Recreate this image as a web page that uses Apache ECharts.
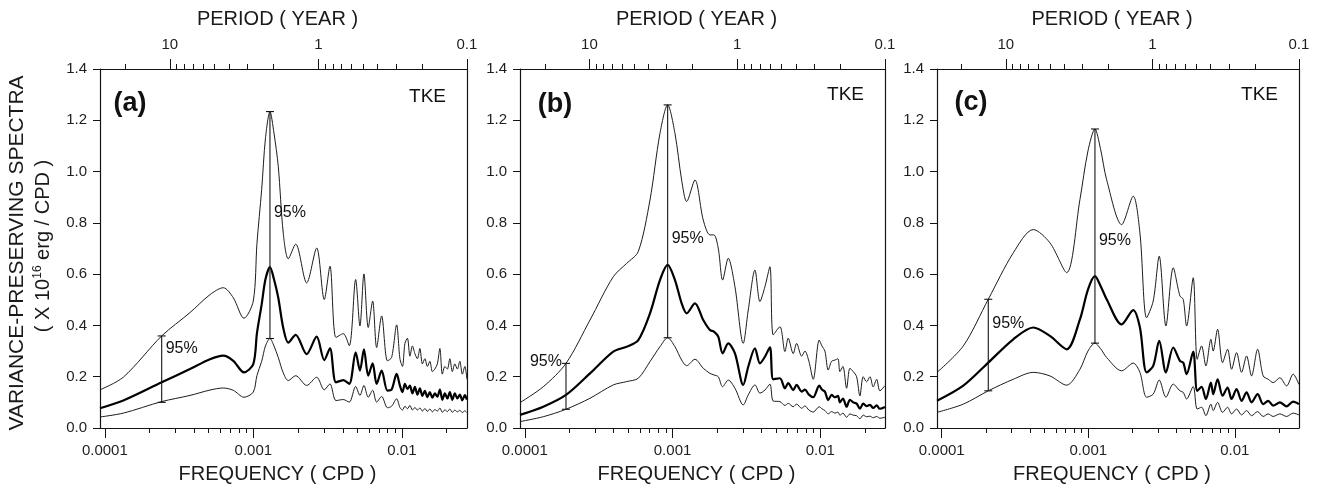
<!DOCTYPE html>
<html>
<head>
<meta charset="utf-8">
<script src="https://cdn.jsdelivr.net/npm/echarts@6/dist/echarts.min.js"></script>
<style>html,body{margin:0;padding:0;background:#fff}#chart{width:1320px;height:489px}</style>
</head>
<body>
<div id="chart"></div>
<script>
// ---------- data (frequencies stored as log10 of CPD) ----------
const aLogF = [-4.0324,-3.8756,-3.6172,-3.4267,-3.2922,-3.2026,-3.1354,-3.0634,-3.0008,-2.9759,-2.9442,-2.9187,-2.8884,-2.8614,-2.8325,-2.7989,-2.7652,-2.7154,-2.6414,-2.5741,-2.5230,-2.4846,-2.4442,-2.3951,-2.3547,-2.3117,-2.2827,-2.2558,-2.2269,-2.1973,-2.1704,-2.1367,-2.0977,-2.0694,-2.0358,
  -2.0136,-1.9968,-1.9800,-1.9632,-1.9464,-1.9296,-1.9128,-1.8960,-1.8792,-1.8624,-1.8456,-1.8288,-1.8120,-1.7952,-1.7784,-1.7616,-1.7448,-1.7280,-1.7112,-1.6944,-1.6776,-1.6608,-1.6440,-1.6272,-1.6104,-1.5936,-1.5768,-1.5626];
const aUpper = [0.149,0.198,0.359,0.45,0.52,0.547,0.508,0.428,0.495,0.72,0.93,1.13,1.234,1.15,1.02,0.76,0.66,0.717,0.566,0.702,0.501,0.631,0.353,0.368,0.321,0.579,0.398,0.601,0.392,0.495,0.314,0.437,0.262,0.275,0.402,
  0.27,0.24,0.33,0.35,0.28,0.32,0.29,0.27,0.31,0.25,0.27,0.24,0.26,0.22,0.23,0.25,0.31,0.21,0.24,0.23,0.27,0.22,0.25,0.23,0.26,0.21,0.24,0.19];
const aMid = [0.077,0.107,0.178,0.23,0.268,0.282,0.262,0.217,0.249,0.37,0.482,0.58,0.627,0.58,0.508,0.39,0.333,0.363,0.288,0.356,0.265,0.311,0.178,0.187,0.172,0.295,0.224,0.307,0.204,0.252,0.172,0.224,0.146,0.15,0.211,
  0.165,0.14,0.172,0.152,0.165,0.135,0.16,0.13,0.155,0.125,0.145,0.12,0.14,0.118,0.135,0.122,0.15,0.11,0.135,0.115,0.14,0.11,0.135,0.115,0.13,0.108,0.128,0.11];
const aLower = [0.043,0.058,0.103,0.127,0.148,0.156,0.147,0.12,0.14,0.205,0.26,0.32,0.349,0.32,0.275,0.215,0.185,0.204,0.166,0.198,0.149,0.172,0.107,0.111,0.101,0.162,0.127,0.166,0.12,0.147,0.101,0.123,0.079,0.085,0.114,
  0.08,0.07,0.085,0.075,0.088,0.07,0.08,0.07,0.078,0.066,0.076,0.065,0.074,0.063,0.072,0.066,0.078,0.061,0.071,0.064,0.074,0.061,0.07,0.063,0.069,0.06,0.067,0.06];

const bLogF = [-4.0324,-3.8748,-3.7212,-3.5588,-3.4011,-3.3105,-3.2320,-3.1528,-3.0852,-3.0331,-2.9837,-2.9384,-2.9045,-2.8484,-2.7922,-2.7469,-2.7198,-2.6907,-2.6610,-2.6231,-2.5777,-2.5216,-2.4877,-2.4424,-2.4086,-2.3748,-2.3409,-2.3186,-2.2733,-2.2394,-2.2171,-2.1833,-2.1603,-2.1264,-2.1041,-2.0771,-2.0480,-2.0074,-1.9891,-1.9688,-1.9465,-1.9235,-1.9011,-1.8808,-1.8673,-1.8470,-1.8220,-1.7997,-1.7773,-1.7543,-1.7320,-1.7097,-1.6867,-1.6643,-1.6420,-1.6190,-1.5967,-1.5626];
const bUpper = [0.099,0.161,0.252,0.421,0.59,0.642,0.688,0.889,1.149,1.26,1.149,0.967,0.883,0.967,0.811,0.753,0.753,0.701,0.577,0.662,0.551,0.33,0.46,0.616,0.493,0.551,0.629,0.363,0.395,0.298,0.35,0.29,0.33,0.28,0.30,0.26,0.19,0.343,0.32,0.30,0.226,0.26,0.265,0.27,0.22,0.24,0.155,0.233,0.22,0.20,0.125,0.2,0.18,0.2,0.16,0.19,0.145,0.165];
const bMid = [0.051,0.083,0.129,0.213,0.298,0.317,0.343,0.447,0.577,0.636,0.577,0.486,0.447,0.486,0.421,0.382,0.376,0.356,0.291,0.33,0.291,0.168,0.239,0.311,0.252,0.278,0.315,0.19,0.194,0.155,0.175,0.148,0.168,0.142,0.15,0.13,0.12,0.165,0.15,0.142,0.109,0.129,0.12,0.125,0.1,0.115,0.083,0.11,0.1,0.095,0.075,0.095,0.085,0.09,0.078,0.088,0.075,0.082];
const bLower = [0.025,0.044,0.073,0.116,0.168,0.181,0.194,0.259,0.317,0.352,0.317,0.265,0.243,0.268,0.233,0.213,0.207,0.2,0.161,0.187,0.155,0.09,0.129,0.168,0.136,0.148,0.171,0.105,0.103,0.088,0.096,0.083,0.093,0.077,0.086,0.07,0.062,0.083,0.075,0.068,0.055,0.064,0.058,0.062,0.05,0.058,0.042,0.055,0.05,0.048,0.036,0.05,0.044,0.046,0.04,0.045,0.038,0.042];

const cLogF = [-4.0324,-3.8530,-3.6825,-3.5119,-3.3755,-3.2616,-3.1477,-3.0570,-3.0024,-2.9546,-2.9171,-2.8748,-2.7725,-2.6934,-2.6477,-2.6020,-2.5570,-2.5160,-2.4703,-2.4205,-2.3748,-2.3523,-2.3291,-2.2841,-2.2568,-2.2268,-2.1975,-2.1634,-2.1477,-2.1177,-2.0836,-2.0495,-2.0222,-1.9881,-1.9540,-1.9199,-1.8857,-1.8448,-1.8066,-1.7725,-1.7384,-1.6927,-1.6470,-1.6020,-1.5626];
const cUpper = [0.217,0.32,0.502,0.683,0.774,0.722,0.606,0.891,1.08,1.166,1.09,0.968,0.793,0.904,0.761,0.43,0.495,0.67,0.398,0.625,0.515,0.502,0.398,0.586,0.268,0.32,0.242,0.346,0.30,0.385,0.255,0.307,0.229,0.294,0.217,0.281,0.203,0.307,0.203,0.19,0.177,0.196,0.164,0.21,0.17];
const cMid = [0.106,0.165,0.255,0.346,0.392,0.359,0.307,0.424,0.54,0.592,0.555,0.502,0.404,0.46,0.392,0.217,0.242,0.34,0.217,0.314,0.262,0.255,0.21,0.298,0.145,0.16,0.113,0.177,0.132,0.19,0.126,0.158,0.113,0.152,0.106,0.139,0.1,0.132,0.093,0.106,0.087,0.1,0.084,0.103,0.093];
const cLower = [0.061,0.093,0.145,0.19,0.217,0.203,0.167,0.229,0.30,0.331,0.31,0.275,0.223,0.253,0.217,0.12,0.132,0.187,0.12,0.171,0.145,0.139,0.113,0.162,0.074,0.081,0.048,0.093,0.068,0.1,0.061,0.081,0.055,0.074,0.051,0.068,0.048,0.064,0.045,0.055,0.045,0.055,0.045,0.058,0.051];

// 95% confidence bars: [log10 f, low, high]
const aBars = [[-2.8884,0.349,1.234],[-3.6172,0.10,0.359]];
const bBars = [[-3.0331,0.352,1.26],[-3.7212,0.073,0.252]];
const cBars = [[-2.9546,0.331,1.166],[-3.6825,0.145,0.502]];
// "95%" annotations: [log10 f, value, side of bar]
const aNotes = [[-2.8884,0.841,'right'],[-3.6172,0.31,'right']];
const bNotes = [[-3.0331,0.737,'right'],[-3.7212,0.26,'left']];
const cNotes = [[-2.9546,0.731,'right'],[-3.6825,0.408,'right']];

// ---------- axis ticks ----------
const freqMajor = [1e-4, 1e-3, 1e-2];
const freqLabels = ['0.0001', '0.001', '0.01'];
const freqMinor = [2e-4,3e-4,4e-4,5e-4,6e-4,7e-4,8e-4,9e-4,2e-3,3e-3,4e-3,5e-3,6e-3,7e-3,8e-3,9e-3,2e-2];
const periodMajor = [10, 1, 0.1];
const periodLabels = ['10', '1', '0.1'];
const periodMinor = [20,9,8,7,6,5,4,3,2,0.9,0.8,0.7,0.6,0.5,0.4,0.3,0.2];
const yTicks = [0, 0.2, 0.4, 0.6, 0.8, 1.0, 1.2, 1.4];
const yLabels = ['0.0','0.2','0.4','0.6','0.8','1.0','1.2','1.4'];
const panelTags = ['(a)', '(b)', '(c)'];

const periodMin = 0.0999, periodMax = 29.5;           // years
const fMin = 1 / (365.25 * periodMax), fMax = 1 / (365.25 * periodMin); // CPD

const FONT = '"Liberation Sans", Arial, Helvetica, sans-serif';
const INK = '#141414';

function labelFor(v, vals, labels) {
  for (let i = 0; i < vals.length; i++) {
    if (Math.abs(Math.log10(v) - Math.log10(vals[i])) < 1e-6) return labels[i];
  }
  return '';
}
function pairs(logF, vals) { return logF.map((L, i) => [Math.pow(10, L), vals[i]]); }

const panels = [
  {grid:{left:100, top:69, width:367, height:362}, logF:aLogF, up:aUpper, mid:aMid, lo:aLower, bars:aBars, notes:aNotes},
  {grid:{left:520, top:69, width:365, height:359}, logF:bLogF, up:bUpper, mid:bMid, lo:bLower, bars:bBars, notes:bNotes},
  {grid:{left:937, top:69, width:362, height:360}, logF:cLogF, up:cUpper, mid:cMid, lo:cLower, bars:cBars, notes:cNotes}
];

const grids = [], xAxes = [], yAxes = [], series = [];
const tickLabelStyle = {fontSize:15, fontFamily:FONT, color:'#1e1e1e'};
const nameStyle = {fontSize:20, fontFamily:FONT, color:'#1a1a1a', padding:[0,12,0,0]};

panels.forEach((p, k) => {
  grids.push(p.grid);
  // bottom frequency axis (major)
  xAxes.push({type:'log', logBase:10, gridIndex:k, position:'bottom', min:fMin, max:fMax,
    axisLine:{show:true, onZero:false, lineStyle:{color:INK, width:1.2}},
    axisTick:{show:true, customValues:freqMajor, length:10, lineStyle:{color:INK, width:1}},
    axisLabel:{show:true, customValues:freqMajor, formatter:v => labelFor(v, freqMajor, freqLabels), margin:15, ...tickLabelStyle},
    splitLine:{show:false}, minorTick:{show:false},
    name:'FREQUENCY ( CPD )', nameLocation:'middle', nameGap:36, nameTextStyle:nameStyle});
  // bottom frequency axis (minor ticks)
  xAxes.push({type:'log', logBase:10, gridIndex:k, position:'bottom', min:fMin, max:fMax,
    axisLine:{show:false, onZero:false},
    axisTick:{show:true, customValues:freqMinor, length:5, lineStyle:{color:INK, width:1}},
    axisLabel:{show:false}, splitLine:{show:false}});
  // top period axis (major)
  xAxes.push({type:'log', logBase:10, gridIndex:k, position:'top', inverse:true, min:periodMin, max:periodMax,
    axisLine:{show:true, onZero:false, lineStyle:{color:INK, width:1.2}},
    axisTick:{show:true, customValues:periodMajor, length:10, lineStyle:{color:INK, width:1}},
    axisLabel:{show:true, customValues:periodMajor, formatter:v => labelFor(v, periodMajor, periodLabels), margin:17, ...tickLabelStyle},
    splitLine:{show:false},
    name:'PERIOD ( YEAR )', nameLocation:'middle', nameGap:40, nameTextStyle:nameStyle});
  // top period axis (minor ticks)
  xAxes.push({type:'log', logBase:10, gridIndex:k, position:'top', inverse:true, min:periodMin, max:periodMax,
    axisLine:{show:false, onZero:false},
    axisTick:{show:true, customValues:periodMinor, length:5, lineStyle:{color:INK, width:1}},
    axisLabel:{show:false}, splitLine:{show:false}});

  yAxes.push({type:'value', gridIndex:k, position:'left', min:0, max:1.4, interval:0.2,
    axisLine:{show:true, onZero:false, lineStyle:{color:INK, width:1.2}},
    axisTick:{show:true, length:7, lineStyle:{color:INK}},
    axisLabel:{show:true, margin:13, formatter:v => labelFor(v + 1, yTicks.map(t => t + 1), yLabels), ...tickLabelStyle},
    splitLine:{show:false}});
  yAxes.push({type:'value', gridIndex:k, position:'right', min:0, max:1.4, interval:0.2,
    axisLine:{show:true, onZero:false, lineStyle:{color:INK, width:1.2}},
    axisTick:{show:false}, axisLabel:{show:false}, splitLine:{show:false}});

  const xi = k * 4, yi = k * 2;
  const lineBase = {type:'line', xAxisIndex:xi, yAxisIndex:yi, symbol:'none', showSymbol:false, smooth:0.3, silent:true, z:3};
  series.push({...lineBase, name:'Upper 95% bound', data:pairs(p.logF, p.up), lineStyle:{color:'#1c1c1c', width:1}});
  series.push({...lineBase, name:'TKE spectrum', data:pairs(p.logF, p.mid), lineStyle:{color:'#000', width:2.2}});
  series.push({...lineBase, name:'Lower 95% bound', data:pairs(p.logF, p.lo), lineStyle:{color:'#1c1c1c', width:1}});

  series.push({type:'custom', name:'95% interval', xAxisIndex:xi, yAxisIndex:yi, clip:false, silent:true, z:4,
    data:p.bars.map(b => [Math.pow(10, b[0]), b[1], b[2]]),
    renderItem:(params, api) => {
      const f = api.value(0);
      const a = api.coord([f, api.value(1)]), b = api.coord([f, api.value(2)]);
      const st = {stroke:INK, lineWidth:1.1};
      const cap = 4;
      return {type:'group', children:[
        {type:'line', shape:{x1:a[0], y1:a[1], x2:b[0], y2:b[1]}, style:st},
        {type:'line', shape:{x1:a[0]-cap, y1:a[1], x2:a[0]+cap, y2:a[1]}, style:st},
        {type:'line', shape:{x1:b[0]-cap, y1:b[1], x2:b[0]+cap, y2:b[1]}, style:st}
      ]};
    }});

  const notes = p.notes;
  series.push({type:'custom', name:'95% label', xAxisIndex:xi, yAxisIndex:yi, clip:false, silent:true, z:5,
    data:notes.map(n => [Math.pow(10, n[0]), n[1]]),
    renderItem:(params, api) => {
      const pt = api.coord([api.value(0), api.value(1)]);
      const left = notes[params.dataIndex][2] === 'left';
      return {type:'text', x:pt[0] + (left ? -4 : 4), y:pt[1],
        style:{text:'95%', fontSize:16, fontFamily:FONT, fill:'#111', align:left ? 'right' : 'left', verticalAlign:'middle'}};
    }});
});

const graphics = [
  {type:'text', x:17, y:253, rotation:Math.PI/2,
    style:{text:'VARIANCE-PRESERVING SPECTRA', fontSize:21, fontFamily:FONT, fill:'#1a1a1a', align:'center', verticalAlign:'middle'}},
  {type:'text', x:43, y:246, rotation:Math.PI/2,
    style:{text:'( X 10{sup|16} erg / CPD )', fontSize:20, fontFamily:FONT, fill:'#1a1a1a', align:'center', verticalAlign:'middle',
      rich:{sup:{fontSize:12, fontFamily:FONT, fill:'#1a1a1a', verticalAlign:'top', lineHeight:22}}}}
];
const tagPos = [[130,104],[555,105],[971,103]];
const tkePos = [[446,97],[864,95],[1278,95]];
panelTags.forEach((t, k) => {
  graphics.push({type:'text', x:tagPos[k][0], y:tagPos[k][1],
    style:{text:t, fontSize:27, fontWeight:'bold', fontFamily:FONT, fill:'#111', align:'center', verticalAlign:'middle'}});
  graphics.push({type:'text', x:tkePos[k][0], y:tkePos[k][1],
    style:{text:'TKE', fontSize:19, fontFamily:FONT, fill:'#111', align:'right', verticalAlign:'middle'}});
});

const chart = echarts.init(document.getElementById('chart'), null, {renderer:'canvas'});
chart.setOption({
  backgroundColor:'#ffffff',
  animation:false,
  grid:grids, xAxis:xAxes, yAxis:yAxes, series:series,
  graphic:graphics
});
</script>
</body>
</html>
